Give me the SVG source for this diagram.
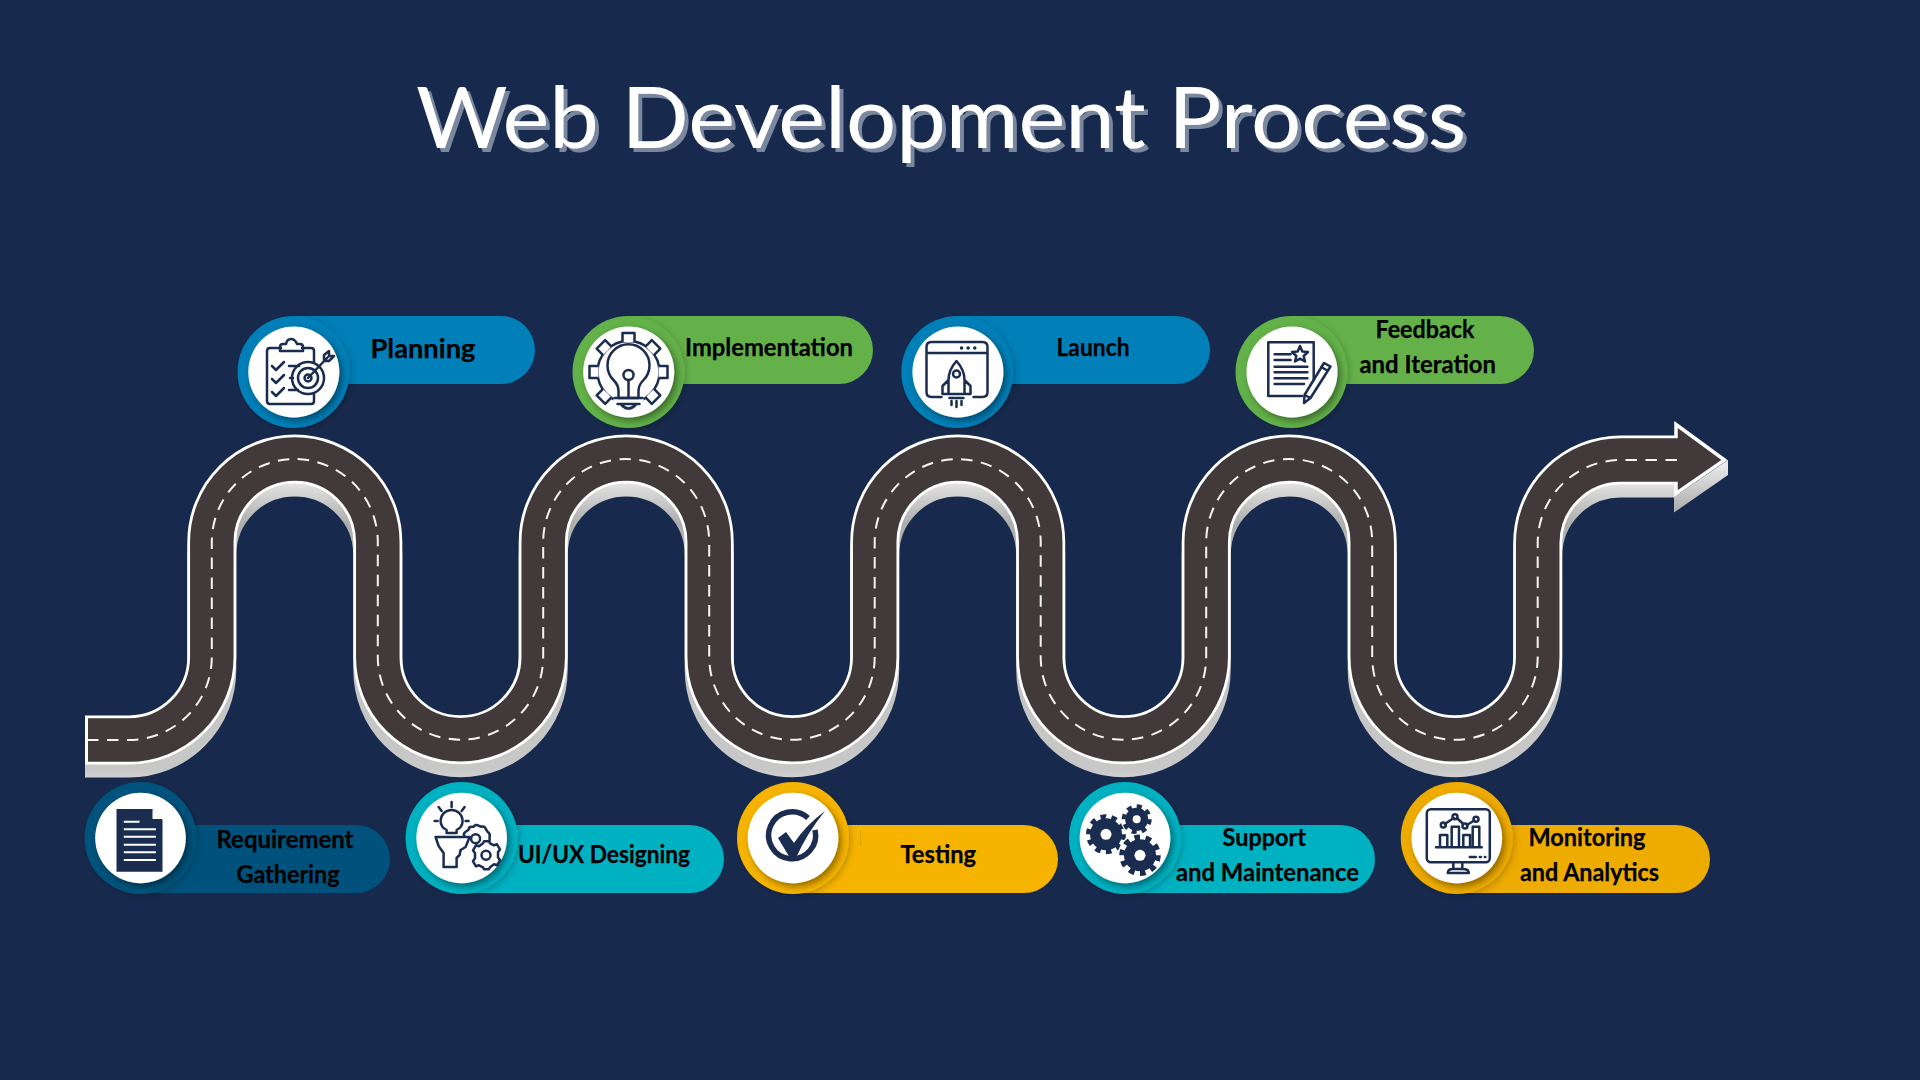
<svg xmlns="http://www.w3.org/2000/svg" xmlns:xlink="http://www.w3.org/1999/xlink" width="1920" height="1080" viewBox="0 0 1920 1080">
<style>
.lb{font-family:"Lato","Liberation Sans",sans-serif;font-weight:700;font-size:24px;fill:#000;stroke:#000;stroke-width:.25}
.ic{fill:none;stroke:#1a2c50;stroke-width:2.5;stroke-linecap:round;stroke-linejoin:round}
.df{fill:#1a2c50}
.wh{fill:#fff;filter:url(#ws)}
.ring{filter:url(#rs)}
</style>
<defs>
<linearGradient id="ex" gradientUnits="userSpaceOnUse" x1="0" y1="460" x2="0" y2="778">
<stop offset="0" stop-color="#f0f0f0"/><stop offset=".16" stop-color="#adadad"/><stop offset=".3" stop-color="#bdbdbd"/><stop offset=".93" stop-color="#c8c8c8"/><stop offset="1" stop-color="#dfdfdf"/>
</linearGradient>
<filter id="ws" x="-20%" y="-20%" width="150%" height="150%"><feDropShadow dx="3" dy="3.5" stdDeviation="3.5" flood-color="#000" flood-opacity=".4"/></filter>
<filter id="rs" x="-20%" y="-20%" width="150%" height="150%"><feDropShadow dx="2" dy="2" stdDeviation="3" flood-color="#000" flood-opacity=".2"/></filter>
<filter id="ts" x="-5%" y="-20%" width="110%" height="150%"><feDropShadow dx="4" dy="4" stdDeviation=".5" flood-color="#7a889f" flood-opacity="1"/></filter>
<path id="rp" d="M85 740H128.8A83 83 0 0 0 211.8 657V542A83 83 0 0 1 377.8 542V657A82.700 82.700 0 0 0 543.2 657V542A83 83 0 0 1 709.2 542V657A82.700 82.700 0 0 0 874.7 657V542A83 83 0 0 1 1040.7 542V657A82.700 82.700 0 0 0 1206.2 657V542A83 83 0 0 1 1372.2 542V657A82.700 82.700 0 0 0 1537.7 657V543A83 83 0 0 1 1620.7 460H1680"/>
<path id="tooth" d="M-6-30V-39H6V-30" fill="#fff" stroke="#1a2c50" stroke-width="2.5" stroke-linejoin="round"/>
</defs>
<rect width="1920" height="1080" fill="#172a4d"/>
<text x="416" y="148" font-family="Lato,'Liberation Sans',sans-serif" font-size="86" fill="#fff" filter="url(#ts)" textLength="1050" lengthAdjust="spacingAndGlyphs">Web Development Process</text>

<g id="connectors">
<g transform="translate(0 13)" fill="none" stroke="url(#ex)">
<use href="#rp" stroke-width="49"/>
</g>
<polygon points="1674,497 1728,460 1728,475 1674,512.500" fill="url(#ex)"/>
<use href="#rp" fill="none" stroke="#fff" stroke-width="49"/>
<polygon points="1676,424.500 1724.500,460 1676,493.500" fill="#423a3a" stroke="#fff" stroke-width="3.500" stroke-linejoin="miter"/>
<path d="M88 740H128.8A83 83 0 0 0 211.8 657V542A83 83 0 0 1 377.8 542V657A82.700 82.700 0 0 0 543.2 657V542A83 83 0 0 1 709.2 542V657A82.700 82.700 0 0 0 874.7 657V542A83 83 0 0 1 1040.7 542V657A82.700 82.700 0 0 0 1206.2 657V542A83 83 0 0 1 1372.2 542V657A82.700 82.700 0 0 0 1537.7 657V543A83 83 0 0 1 1620.7 460H1682" fill="none" stroke="#423a3a" stroke-width="43.500"/>
<path d="M87 740H128.8A83 83 0 0 0 211.8 657V542A83 83 0 0 1 377.8 542V657A82.700 82.700 0 0 0 543.2 657V542A83 83 0 0 1 709.2 542V657A82.700 82.700 0 0 0 874.7 657V542A83 83 0 0 1 1040.7 542V657A82.700 82.700 0 0 0 1206.2 657V542A83 83 0 0 1 1372.2 542V657A82.700 82.700 0 0 0 1537.7 657V543A83 83 0 0 1 1620.7 460H1678" fill="none" stroke="#f4f4f4" stroke-width="2" stroke-dasharray="11.500 8.500"/>
</g>

<g id="node-requirement">
<path d="M140 825H356A34 34 0 0 1 356 893H140Z" fill="#00527c"/>
<circle class="ring" cx="140.500" cy="838" r="56" fill="#00527c"/>
<circle class="wh" cx="140.500" cy="838" r="45.300"/>
<g transform="translate(140.500 838)">
<path class="df" d="M-24-29H12L22-18V33.700H-24Z"/>
<path d="M12-29L22-19H12Z" fill="#fff"/>
<path d="M-16.700-16.300H-1M-16.700-8.700H15.400M-16.700-1.300H15.400M-16.700 6.700H15.400M-16.700 14.300H15.400M-16.700 22H15.400" stroke="#fff" stroke-width="2" fill="none"/>
</g>
<text class="lb" x="216.500" y="847.500" textLength="137" lengthAdjust="spacingAndGlyphs">Requirement</text>
<text class="lb" x="236.500" y="882.500" textLength="103" lengthAdjust="spacingAndGlyphs">Gathering</text>
</g>

<g id="node-planning">
<path d="M293 316H501A34 34 0 0 1 501 384H293Z" fill="#007fb8"/>
<circle class="ring" cx="293.500" cy="372" r="56" fill="#007fb8"/>
<circle class="wh" cx="293.800" cy="372" r="45.500"/>
<g transform="translate(294 372)">
<path class="ic" d="M-13-24H-24Q-27-24-27-21V29Q-27 32-24 32H17Q20 32 20 29V22M8-24H17Q20-24 20-21V-10"/>
<path class="ic" d="M-14-22V-25Q-14-28-11-28H-8Q-7-33-3-33T3-28H6Q9-28 9-25V-21H-14Z"/>
<path class="ic" d="M-22-6L-18-2-10-10M-22 7L-18 11-10 3M-22 20L-18 24-10 16M-5-6H5M-4 6H-1M-5 18H4"/>
<circle class="ic" cx="14" cy="6" r="16"/><circle class="ic" cx="14" cy="6" r="10"/><circle class="ic" cx="14" cy="6" r="3.500"/>
<path class="ic" d="M14 6L34-15M30-11L30-17 35-21 35-16 40-16 35-11Z"/>
</g>
<text class="lb" style="font-size:27px" x="370.500" y="357.500" textLength="105" lengthAdjust="spacingAndGlyphs">Planning</text>
</g>

<g id="node-uiux">
<path d="M461 825H690A34 34 0 0 1 690 893H461Z" fill="#00b1c1"/>
<circle class="ring" cx="461.600" cy="838" r="56" fill="#00b1c1"/>
<circle class="wh" cx="461.600" cy="838" r="45.300"/>
<g transform="translate(461.600 838)">
<path class="ic" d="M-15-5V-8Q-21-11-21-17A11 11 0 1 1 1-17Q1-11-5-8V-5ZM-10-36V-31M-23-31L-20-27M3-31L0-27M-27-17H-24M4-17H7"/>
<path class="ic" d="M-26-1H8L4 9-1 12-2 17-5 20V29H-18V15L-23 8Z"/>
<g transform="translate(14 .7)">
<circle r="4.500" class="ic"/>
<path class="ic" d="M-11 -2Q-13-5-10-7L-7-9Q-7-12-4-12L-2-12Q0-15 3-13L6-12Q9-13 10-10L12-7Q15-5 14-2L14 2"/>
</g>
<g transform="translate(24.400 17.300)">
<circle r="4.500" class="ic"/>
<path class="ic" d="M-3-12L-2-14H3L4-12 8-10 11-11 14-6 12-3V2L14 5 11 10 8 9 4 12 3 14H-2L-3 12-7 10-10 11-13 6-11 3V-2L-13-5-10-10-7-9Z"/>
</g>
</g>
<text class="lb" x="518" y="862.500" textLength="172" lengthAdjust="spacingAndGlyphs">UI/UX Designing</text>
</g>

<g id="node-implementation">
<path d="M628 316H839A34 34 0 0 1 839 384H628Z" fill="#64b14a"/>
<circle class="ring" cx="628.500" cy="372" r="56" fill="#64b14a"/>
<circle class="wh" cx="628.700" cy="372" r="45.500"/>
<g transform="translate(628.500 372)">
<circle r="31" class="ic"/>
<use href="#tooth"/><use href="#tooth" transform="rotate(45)"/><use href="#tooth" transform="rotate(90)"/><use href="#tooth" transform="rotate(135)"/><use href="#tooth" transform="rotate(225)"/><use href="#tooth" transform="rotate(270)"/><use href="#tooth" transform="rotate(315)"/>
<path d="M-15 22H15V40H-15Z" fill="#fff"/>
<path class="ic" d="M-10 26V19Q-10 13-15 8A21 21 0 1 1 15 8Q10 13 10 19V26Z"/>
<circle class="ic" cy="3" r="5"/>
<path class="ic" d="M0 8V26M-14 26H14M-11 32H11M-7 33Q0 40 7 33"/>
</g>
<text class="lb" x="685" y="356" textLength="168" lengthAdjust="spacingAndGlyphs">Implementation</text>
</g>

<g id="node-testing">
<path d="M793 825H1024A34 34 0 0 1 1024 893H793Z" fill="#f6b400"/>
<circle class="ring" cx="793" cy="838" r="56" fill="#f6b400"/>
<circle class="wh" cx="793" cy="838" r="45.300"/>
<rect x="860" y="830" width="1" height="17" fill="#dca200"/>
<path d="M808 818A23.500 23.500 0 1 0 815 830" fill="none" stroke="#1a2c50" stroke-width="5.500"/>
<path class="df" d="M778 838L786 832 794 843Q806 825 825 811 807 833 796 858H790Z"/>
<text class="lb" x="900.500" y="862.500" textLength="75.500" lengthAdjust="spacingAndGlyphs">Testing</text>
</g>

<g id="node-launch">
<path d="M957 316H1176A34 34 0 0 1 1176 384H957Z" fill="#007fb8"/>
<circle class="ring" cx="957.300" cy="372" r="56" fill="#007fb8"/>
<circle class="wh" cx="957.900" cy="372" r="45.500"/>
<g transform="translate(957.500 372)">
<path class="ic" d="M-16 25H-26Q-31 25-31 20V-25Q-31-30-26-30H25Q30-30 30-25V20Q30 25 25 25H16M-31-19H30"/>
<path class="ic" stroke-dasharray="0.100 6.500" style="stroke-width:3.500" d="M4-24H22"/>
<path class="ic" d="M-1-11Q-9-2-9 8V22H7V8Q7-2-1-11ZM-9 8L-15 14V22H-9M7 8L13 14V22H7M-8 26H6"/>
<circle class="ic" cx="-1" cy="2" r="3.500"/>
<path class="ic" d="M-6 29V33M-1 29V35M4 29V33"/>
</g>
<text class="lb" x="1056.500" y="356" textLength="73" lengthAdjust="spacingAndGlyphs">Launch</text>
</g>

<g id="node-support">
<path d="M1125 825H1341A34 34 0 0 1 1341 893H1125Z" fill="#00b1c1"/>
<circle class="ring" cx="1125" cy="838" r="56" fill="#00b1c1"/>
<circle class="wh" cx="1125" cy="838" r="45.300"/>
<g transform="translate(1125 838)">
<circle cx="-19" cy="-3.700" r="16" class="df"/>
<circle cx="-19" cy="-3.700" r="17.500" fill="none" stroke="#1a2c50" stroke-width="5" pathLength="20" stroke-dasharray="1 1"/>
<circle cx="-19" cy="-3.700" r="5.500" fill="#fff"/>
<circle cx="11.700" cy="-18.700" r="16" fill="#fff"/>
<circle cx="11.700" cy="-18.700" r="11.500" class="df"/>
<circle cx="11.700" cy="-18.700" r="13" fill="none" stroke="#1a2c50" stroke-width="4" pathLength="16" stroke-dasharray="1 1"/>
<circle cx="11.700" cy="-18.700" r="4" fill="#fff"/>
<circle cx="15" cy="17.300" r="22" fill="#fff"/>
<circle cx="15" cy="17.300" r="16" class="df"/>
<circle cx="15" cy="17.300" r="18" fill="none" stroke="#1a2c50" stroke-width="5.500" pathLength="20" stroke-dasharray="1 1"/>
<circle cx="15" cy="17.300" r="5.500" fill="#fff"/>
</g>
<text class="lb" x="1222.500" y="846" textLength="83.500" lengthAdjust="spacingAndGlyphs">Support</text>
<text class="lb" x="1176" y="881" textLength="183" lengthAdjust="spacingAndGlyphs">and Maintenance</text>
</g>

<g id="node-feedback">
<path d="M1291 316H1500A34 34 0 0 1 1500 384H1291Z" fill="#64b14a"/>
<circle class="ring" cx="1291.500" cy="372" r="56" fill="#64b14a"/>
<circle class="wh" cx="1292" cy="372" r="45.500"/>
<g transform="translate(1292 372)">
<path class="ic" d="M10 24H-23.700V-29.700H21.700V8"/>
<path class="ic" d="M-17.400-17.700H-1.400M-17.400-12H-1.400M-17.400-5.300H15.400M-17.400 .3H15.400M-17.400 6.300H15.400M-17.400 12H12"/>
<path class="ic" d="M8-26L10.300-20.500 16-20 11.700-16 13-10.500 8-13.300 3-10.500 4.300-16 0-20 5.700-20.500Z"/>
<path class="ic" d="M32-9L38.500-5.500 18.500 26 12 31 12.500 23ZM12.500 23L18.500 26M29-5L35.500-1.500"/>
</g>
<text class="lb" x="1375.500" y="338" textLength="99" lengthAdjust="spacingAndGlyphs">Feedback</text>
<text class="lb" x="1359.500" y="373" textLength="136.500" lengthAdjust="spacingAndGlyphs">and Iteration</text>
</g>

<g id="node-monitoring">
<path d="M1456 825H1676A34 34 0 0 1 1676 893H1456Z" fill="#eeab00"/>
<circle class="ring" cx="1456.800" cy="838" r="56" fill="#eeab00"/>
<circle class="wh" cx="1456.800" cy="838" r="45.300"/>
<g transform="translate(1456.800 838)">
<rect class="ic" x="-30" y="-28.700" width="63" height="53" rx="4"/>
<path class="ic" d="M-20.800 9.300H24.900M-16.800 9V-3H-9.500V9M-5.100 9V-11.300H2.200V9M6.500 9V-3H13.200V9M15.900 9V-11.300H22.500V9"/>
<path class="ic" d="M-12-14L-3-20M0-20L6.500-14M10-13L17.500-17.500"/>
<circle class="ic" cx="-13.500" cy="-13" r="2.500"/><circle class="ic" cx="-1.800" cy="-21.300" r="2.500"/><circle class="ic" cx="8.200" cy="-12" r="2.500"/><circle class="ic" cx="19.200" cy="-18.700" r="2.500"/>
<path class="ic" d="M13 19H19M23 19H24M28 19H28.500M-3.500 25V31M5.500 25V31M-9 35Q-9 31-4 31H6Q12 31 12 35Z"/>
</g>
<text class="lb" x="1528.500" y="846" textLength="117" lengthAdjust="spacingAndGlyphs">Monitoring</text>
<text class="lb" x="1520" y="881" textLength="139" lengthAdjust="spacingAndGlyphs">and Analytics</text>
</g>
</svg>
